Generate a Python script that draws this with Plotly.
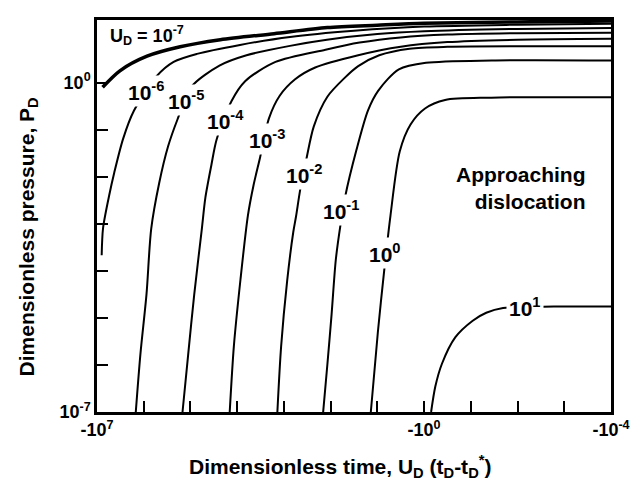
import plotly.graph_objects as go

# Exponents of U_D for each curve
u_exponents = [-7, -6, -5, -4, -3, -2, -1, 0, 1]

# Each curve: log10 |U_D (t_D - t_D*)| and log10 P_D
logt_m7 = [6.88, 6.51, 5.93, 5.22, 4.36, 3.21, 2.07, 1.0, 0.0, -2.0, -4.0]
logp_m7 = [-0.10, 0.25, 0.56, 0.76, 0.91, 1.04, 1.17, 1.22, 1.26, 1.29, 1.31]

logt_m6 = [6.90, 6.87, 6.74, 6.63, 6.44, 6.21, 5.73, 5.36, 4.86, 3.94, 2.87, 1.5, 0.0, -2.0, -4.0]
logp_m6 = [-3.67, -3.09, -2.40, -1.91, -1.19, -0.60, 0.13, 0.44, 0.61, 0.80, 0.97, 1.10, 1.19, 1.23, 1.25]

logt_m5 = [6.17, 6.07, 5.94, 5.84, 5.67, 5.48, 5.28, 4.98, 4.38, 3.80, 2.87, 2.08, 1.0, 0.0, -2.0, -4.0]
logp_m5 = [-7.0, -5.76, -4.49, -3.11, -2.14, -1.36, -0.79, -0.09, 0.36, 0.58, 0.78, 0.91, 1.03, 1.09, 1.14, 1.16]

logt_m4 = [5.17, 5.05, 4.92, 4.76, 4.68, 4.55, 4.44, 4.12, 3.83, 3.18, 2.11, 1.38, 0.5, -0.5, -2.0, -4.0]
logp_m4 = [-7.0, -5.79, -4.51, -3.14, -2.44, -1.74, -1.21, -0.39, 0.03, 0.44, 0.70, 0.85, 0.96, 1.02, 1.05, 1.06]

logt_m3 = [4.16, 4.07, 3.93, 3.77, 3.65, 3.51, 3.32, 3.09, 2.76, 2.33, 1.41, 0.5, -0.5, -2.0, -4.0]
logp_m3 = [-7.0, -5.59, -4.19, -2.82, -2.18, -1.59, -0.76, -0.28, 0.07, 0.32, 0.58, 0.76, 0.86, 0.91, 0.93]

logt_m2 = [3.14, 3.06, 2.93, 2.80, 2.74, 2.65, 2.52, 2.36, 2.07, 1.70, 1.41, 0.96, 0.31, -0.5, -4.0]
logp_m2 = [-7.0, -5.61, -4.21, -3.18, -2.84, -2.27, -1.63, -0.93, -0.30, 0.10, 0.35, 0.58, 0.72, 0.76, 0.77]

logt_m1 = [2.16, 2.07, 1.98, 1.89, 1.79, 1.69, 1.45, 1.20, 0.98, 0.54, -0.04, -1.45, -4.0]
logp_m1 = [-7.0, -5.99, -4.93, -3.77, -3.03, -2.43, -1.44, -0.59, -0.17, 0.28, 0.42, 0.47, 0.47]

logt_p0 = [1.14, 0.99, 0.85, 0.72, 0.52, 0.29, -0.02, -0.45, -1.44, -4.0]
logp_p0 = [-7.0, -5.31, -3.96, -2.83, -1.46, -0.89, -0.55, -0.37, -0.32, -0.31]

logt_p1 = [-0.15, -0.24, -0.38, -0.67, -1.04, -1.33, -1.69, -2.78, -4.0]
logp_p1 = [-7.0, -6.46, -5.98, -5.41, -5.06, -4.89, -4.79, -4.76, -4.76]

curves = [
    (logt_m7, logp_m7), (logt_m6, logp_m6), (logt_m5, logp_m5),
    (logt_m4, logp_m4), (logt_m3, logp_m3), (logt_m2, logp_m2),
    (logt_m1, logp_m1), (logt_p0, logp_p0), (logt_p1, logp_p1),
]

x_tick_exp = list(range(7, -5, -1))
x_tick_text = ["-10<sup>7</sup>", "", "", "", "", "", "", "-10<sup>0</sup>", "", "", "", "-10<sup>-4</sup>"]
y_tick_exp = list(range(-7, 1))
y_tick_text = ["10<sup>-7</sup>", "", "", "", "", "", "", "10<sup>0</sup>"]

FONT = "Liberation Sans, Arial, sans-serif"

fig = go.Figure()
for exp, (lt, lp) in zip(u_exponents, curves):
    fig.add_trace(go.Scatter(
        x=[10 ** v for v in lt], y=[10 ** v for v in lp],
        mode="lines", line=dict(color="black", width=3.5 if exp == -7 else 2, shape="spline", smoothing=0.8),
        showlegend=False, hoverinfo="skip",
    ))

# curve labels (log10 positions)
labels = [
    ("10<sup>-6</sup>", 5.95, -0.18),
    ("10<sup>-5</sup>", 5.10, -0.37),
    ("10<sup>-4</sup>", 4.25, -0.79),
    ("10<sup>-3</sup>", 3.37, -1.19),
    ("10<sup>-2</sup>", 2.57, -1.95),
    ("10<sup>-1</sup>", 1.78, -2.71),
    ("10<sup>0</sup>", 0.84, -3.62),
    ("10<sup>1</sup>", -2.16, -4.76),
]
annotations = []
for txt, lx, ly in labels:
    annotations.append(dict(x=lx, y=ly, xref="x", yref="y", text=txt, showarrow=False,
                            font=dict(family=FONT, size=21, color="black", weight="bold"),
                            bgcolor="white", borderpad=2))
annotations.append(dict(x=6.77, y=1.0, xref="x", yref="y", xanchor="left",
                        text="U<sub>D</sub> = 10<sup>-7</sup>", showarrow=False,
                        font=dict(family=FONT, size=18, color="black", weight="bold")))
annotations.append(dict(x=-3.5, y=-2.25, xref="x", yref="y", xanchor="right", align="right",
                        text="Approaching<br>dislocation", showarrow=False,
                        font=dict(family=FONT, size=21, color="black", weight="bold")))
annotations.append(dict(x=0.473, y=-0.138, xref="paper", yref="paper", yanchor="middle",
                        text="Dimensionless time, U<sub>D</sub> (t<sub>D</sub>-t<sub>D</sub><sup>*</sup>)",
                        showarrow=False, font=dict(family=FONT, size=21, color="black", weight="bold")))
annotations.append(dict(x=-0.163, y=0.446, xref="paper", yref="paper", textangle=-90,
                        text="Dimensionless pressure, P<sub>D</sub>",
                        showarrow=False, font=dict(family=FONT, size=21, color="black", weight="bold")))

fig.update_layout(
    width=642, height=482,
    margin=dict(l=97, r=29, t=20, b=70),
    paper_bgcolor="white", plot_bgcolor="white",
    annotations=annotations,
    xaxis=dict(type="log", range=[7, -4], tickmode="array",
               tickvals=[10 ** e for e in x_tick_exp], ticktext=x_tick_text,
               ticks="inside", ticklen=11, tickwidth=2, tickcolor="black",
               showline=True, linecolor="black", linewidth=2.5, mirror=True,
               showgrid=False, zeroline=False,
               tickfont=dict(family=FONT, size=18, color="black", weight="bold")),
    yaxis=dict(type="log", range=[-7, 1.33], tickmode="array",
               tickvals=[10 ** e for e in y_tick_exp], ticktext=y_tick_text,
               ticks="inside", ticklen=11, tickwidth=2, tickcolor="black",
               showline=True, linecolor="black", linewidth=2.5, mirror=True,
               showgrid=False, zeroline=False,
               tickfont=dict(family=FONT, size=18, color="black", weight="bold")),
)

fig.write_html("out.html", config={"displayModeBar": False},
               post_script="document.body.style.margin='0';")
